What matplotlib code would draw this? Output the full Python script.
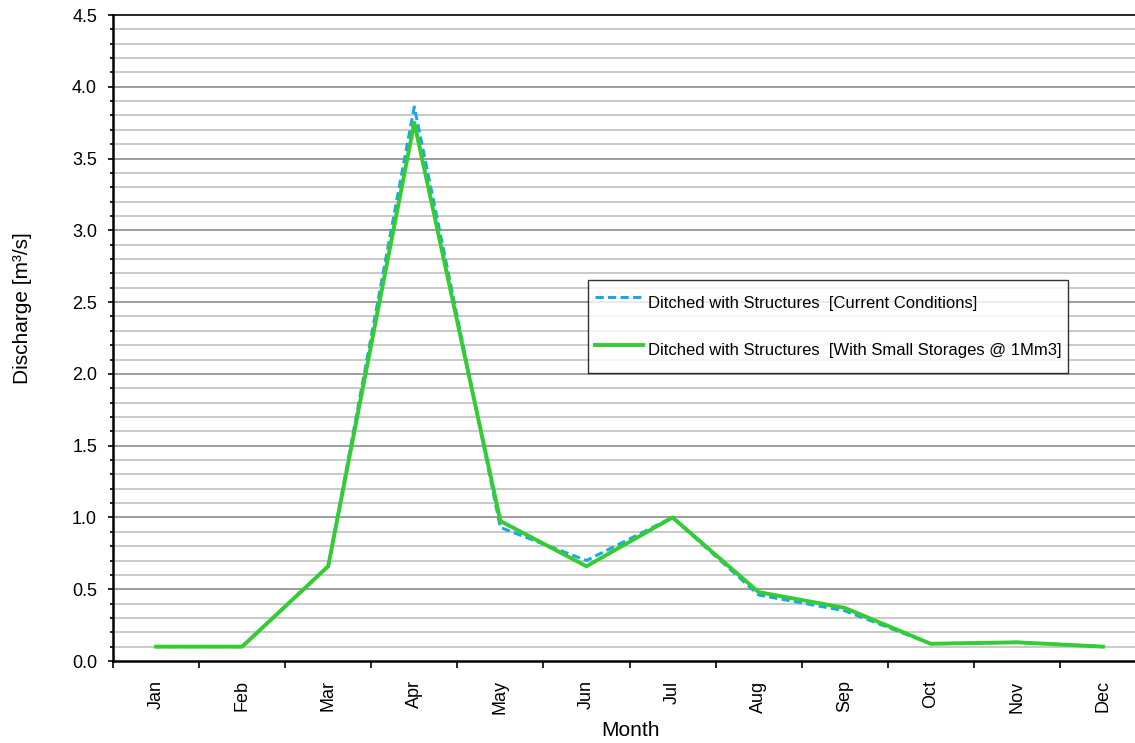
import matplotlib.pyplot as plt
import numpy as np
from matplotlib.ticker import MultipleLocator

plt.rcParams["font.family"] = ["Liberation Sans", "DejaVu Sans"]

# 月份类别
months = ["Jan", "Feb", "Mar", "Apr", "May", "Jun",
          "Jul", "Aug", "Sep", "Oct", "Nov", "Dec"]

# 两条流量曲线 (m3/s)
current_conditions = [0.10, 0.10, 0.66, 3.86, 0.93, 0.70,
                      1.00, 0.46, 0.35, 0.12, 0.13, 0.10]
small_storages = [0.10, 0.10, 0.66, 3.75, 0.975, 0.66,
                  1.00, 0.48, 0.37, 0.12, 0.13, 0.10]

label_current = "Ditched with Structures  [Current Conditions]"
label_storage = "Ditched with Structures  [With Small Storages @ 1Mm3]"

fig = plt.figure(figsize=(11.35, 7.43), dpi=100)
# 右边界超出画布，和原图一样被裁掉
ax = fig.add_axes([113 / 1135, 82 / 743, 1033 / 1135, 646 / 743])

x = np.arange(len(months))

# 网格线：0.1 细灰线，0.5 深一点
for value in np.arange(0.1, 4.5, 0.1):
    is_major = abs(value * 2 - round(value * 2)) < 1e-6
    ax.axhline(value, color="#8c8c8c" if is_major else "#c0c0c0",
               linewidth=1.2, zorder=0)

ax.plot(x, current_conditions, color="#1aa7e8", linestyle=(0, (2.7, 1.4)),
        linewidth=2.2, label=label_current, zorder=2)
ax.plot(x, small_storages, color="#33cc33", linewidth=2.8,
        label=label_storage, zorder=3)

ax.set_xlim(-0.5, len(months) - 0.5)
ax.set_ylim(0, 4.5)

ax.yaxis.set_major_locator(MultipleLocator(0.5))
ax.yaxis.set_minor_locator(MultipleLocator(0.1))
ax.yaxis.set_major_formatter(plt.FuncFormatter(lambda v, _: f"{v:.1f}"))
ax.tick_params(axis="y", which="major", length=3.5, width=1.2,
               labelsize=13, pad=8)
ax.tick_params(axis="y", which="minor", length=2.5, width=1.2)

# 类别轴：刻度在格子边界，标签在格子中间
ax.set_xticks(np.arange(-0.5, len(months), 1.0))
ax.set_xticklabels([])
ax.set_xticks(x, minor=True)
ax.set_xticklabels(months, minor=True, rotation=90, fontsize=13)
ax.tick_params(axis="x", which="major", length=5, width=1.2)
ax.tick_params(axis="x", which="minor", length=0, pad=14)

for side in ["left", "bottom"]:
    ax.spines[side].set_linewidth(1.8)
ax.spines["top"].set_linewidth(1.2)
ax.spines["right"].set_visible(False)

ax.set_ylabel("Discharge [m³/s]", fontsize=15)
ax.yaxis.set_label_coords(-0.078, 0.546)
ax.set_xlabel("Month", fontsize=15)
ax.xaxis.set_label_coords(0.501, -0.093)

legend = ax.legend(loc="upper left", bbox_to_anchor=(475 / 1033, (661 - 280) / 646),
                   fontsize=12, frameon=True, fancybox=False,
                   edgecolor="black", handlelength=2.9, handleheight=2.6,
                   handletextpad=0.3, labelspacing=0.9, borderpad=0.4,
                   borderaxespad=0)
legend.get_frame().set_linewidth(1.0)

fig.savefig("out.png", dpi=100)
